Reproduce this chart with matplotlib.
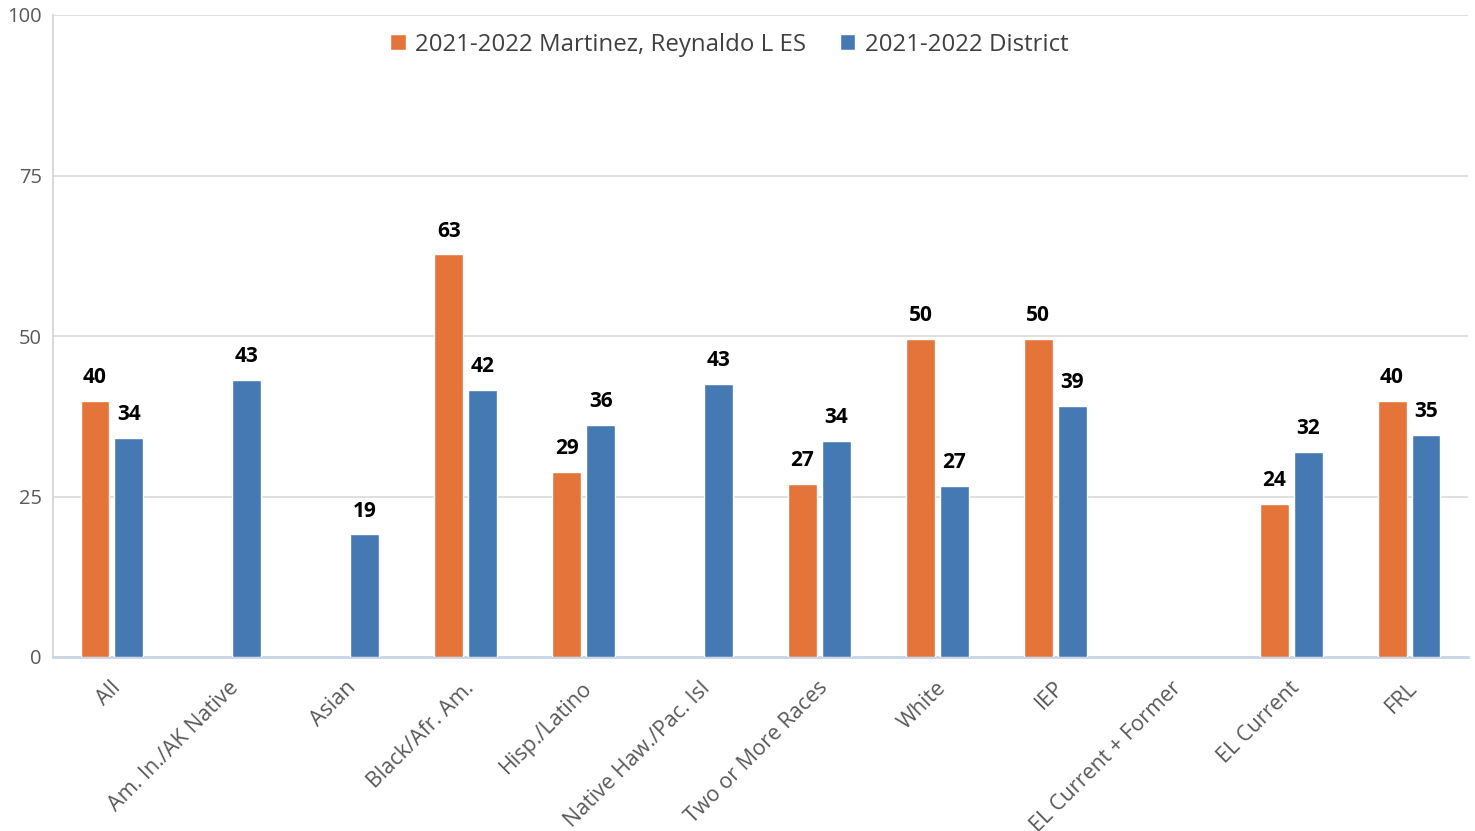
import matplotlib
matplotlib.use("Agg")
import matplotlib.pyplot as plt
import numpy as np

categories = ["All", "Am. In./AK Native", "Asian", "Black/Afr. Am.", "Hisp./Latino",
              "Native Haw./Pac. Isl", "Two or More Races", "White", "IEP",
              "EL Current + Former", "EL Current", "FRL"]
school = [39.9, None, None, 62.7, 28.8, None, 26.9, 49.6, 49.6, None, 23.8, 39.9]
district = [34.1, 43.1, 19.1, 41.6, 36.2, 42.6, 33.6, 26.6, 39.1, None, 31.9, 34.6]
series_names = ["2021-2022 Martinez, Reynaldo L ES", "2021-2022 District"]
yticks = [0, 25, 50, 75, 100]

orange = "#E5743A"
blue = "#4579B3"

plt.rcParams['font.family'] = ['Open Sans', 'DejaVu Sans']

fig = plt.figure(figsize=(14.75, 8.31), dpi=100)
ax = fig.add_axes([53/1475, 1-657/831, (1468-53)/1475, (657-15)/831])

x = np.arange(len(categories))
off = 0.144
w = 0.245

def draw(vals, dx, color):
    xs = [xi + dx for xi, v in zip(x, vals) if v is not None]
    vs = [v for v in vals if v is not None]
    bars = ax.bar(xs, vs, width=w, color=color, edgecolor="white", linewidth=1.0, zorder=3)
    for xx, v in zip(xs, vs):
        ax.text(xx, v + 2.0, f"{round(v):.0f}", ha="center", va="bottom",
                fontsize=15, fontweight="bold", color="black", zorder=4)
    return bars

b1 = draw(school, -off, orange)
b2 = draw(district, off, blue)

ax.set_xlim(-0.5, len(categories) - 0.5)
ax.set_ylim(0, 100)
ax.set_yticks(yticks)
ax.yaxis.grid(True, color="#dadada", linewidth=1.2, zorder=0)
ax.set_axisbelow(True)
for s in ["top", "right"]:
    ax.spines[s].set_visible(False)
ax.spines["left"].set_color("#d9d9d9")
ax.spines["left"].set_linewidth(1.5)
ax.spines["bottom"].set_color("#c9d5e8")
ax.spines["bottom"].set_linewidth(2)
ax.tick_params(axis="y", length=0, pad=8, labelsize=14.5, labelcolor="#595959")
ax.tick_params(axis="x", length=0, pad=6, labelsize=15.5, labelcolor="#595959")
ax.set_xticks(x)
ax.set_xticklabels(categories, rotation=45, ha="right", va="top", rotation_mode="anchor")
for lbl in ax.get_xticklabels():
    lbl.set_transform(lbl.get_transform() + matplotlib.transforms.ScaledTranslation(-0.02, -0.12, fig.dpi_scale_trans))

leg = ax.legend([b1, b2], series_names, loc="upper center", bbox_to_anchor=(0.478, 1.006),
                ncol=2, frameon=False, fontsize=17.3, handlelength=0.65, handleheight=0.65,
                handletextpad=0.4, columnspacing=1.4)
for t in leg.get_texts():
    t.set_color("#404040")

fig.savefig("out.png", dpi=100)
